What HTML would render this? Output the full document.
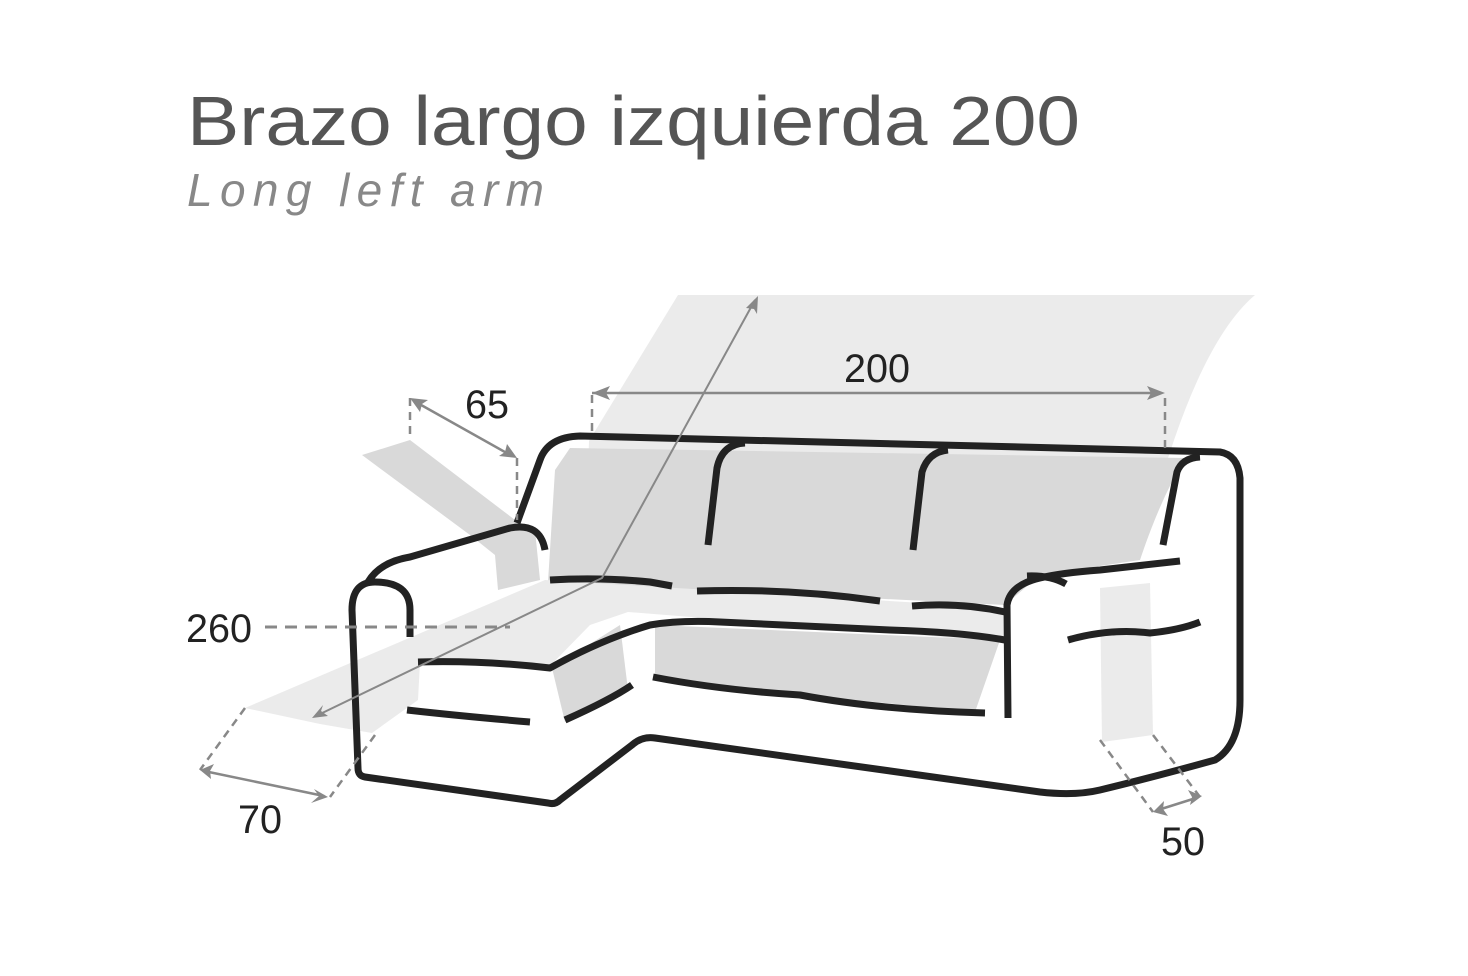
<!DOCTYPE html>
<html><head><meta charset="utf-8"><style>html,body{margin:0;padding:0;background:#fff}svg{display:block}</style></head>
<body>
<svg width="1468" height="976" viewBox="0 0 1468 976" xmlns="http://www.w3.org/2000/svg">
<text x="187" y="145" font-family="Liberation Sans, sans-serif" font-size="70" fill="#555" textLength="893" lengthAdjust="spacingAndGlyphs">Brazo largo izquierda 200</text>
<text x="187" y="206" font-family="Liberation Sans, sans-serif" font-style="italic" font-size="46" fill="#888" textLength="357" lengthAdjust="spacing">Long left arm</text>

<path d="M678,295 L1255,295 Q1190,350 1140,560 L585,560 L589,441 Z" fill="#ebebeb"/>
<path d="M570,448 L1185,458 Q1160,500 1140,560 L1040,575 L1005,605 L548,582 L555,470 Z" fill="#d9d9d9"/>
<path d="M245,708 L545,580 L1005,608 L1005,642 L628,612 L590,625 L548,668 L420,662 L418,700 L372,733 L320,724 Z" fill="#ebebeb"/>
<path d="M362,455 L410,440 L515,520 L535,530 L540,580 L498,590 L495,555 L470,535 Z" fill="#d9d9d9"/>
<path d="M655,625 L1000,640 L975,712 L655,680 Z" fill="#d9d9d9"/>
<path d="M552,668 L620,625 L628,690 L565,722 Z" fill="#d9d9d9"/>
<path d="M1100,588 L1150,583 L1153,735 L1102,742 Z" fill="#ebebeb"/>

<g fill="none" stroke="#222" stroke-width="7" stroke-linecap="butt" stroke-linejoin="round">
<path d="M517,523 L540,460 Q548,437 580,436 L1220,452 Q1238,455 1240,478 L1240,700 Q1240,745 1215,760 Q1150,778 1100,790 Q1075,796 1040,792 L655,738 Q642,736 632,745 L560,800 Q555,805 548,803 L365,777 Q358,776 358,768 L352,610 Q352,582 375,582 Q410,582 410,610 L410,637"/>
<path d="M368,582 Q380,562 410,557 L510,528 Q540,522 545,550"/>
<path d="M1008,718 L1007,605 Q1010,585 1040,578 Q1060,573 1100,570 L1180,561"/>
<path d="M1027,576 Q1050,575 1066,584"/>
<path d="M1163,545 L1177,472 Q1182,458 1200,457"/>
<path d="M708,545 L717,468 Q722,444 745,443"/>
<path d="M913,550 L922,472 Q928,452 948,450"/>
<path d="M550,580 Q600,577 650,582 L672,586"/>
<path d="M697,591 Q790,588 880,601"/>
<path d="M912,606 Q960,602 1005,612"/>
<path d="M1005,640 Q960,632 890,630 L720,622 Q680,620 650,625 Q600,640 550,668 Q480,660 418,662"/>
<path d="M407,710 Q460,716 530,722"/>
<path d="M565,720 Q610,700 632,685"/>
<path d="M653,677 Q720,690 800,695 Q880,710 985,713"/>
<path d="M1068,640 Q1110,628 1150,633 Q1180,630 1200,622"/>
</g>

<g stroke="#888" fill="none" stroke-width="2.5">
<path d="M592,393 L1160,393"/>
<path d="M592,395 V435 M1165,398 V450 M410,398 V440 M517,458 V520 M245,708 L200,770 M375,735 L330,797 M1100,740 L1153,812 M1153,735 L1200,797" stroke-dasharray="8,6"/>
<path d="M265,627 H510" stroke-dasharray="12,8" stroke-width="3"/>
<path d="M414,401 L512,456"/>
<path d="M204,771 L324,796"/>
<path d="M1158,810 L1196,798"/>
<path d="M755,300 L602,578 L316,716" stroke-width="2"/>
</g>
<g fill="#888">
<polygon points="592,393 610,386 606,393 610,400"/>
<polygon points="1165,393 1147,386 1151,393 1147,400"/>
<polygon points="410,398 428,400 422,404 420,412"/>
<polygon points="517,458 499,456 505,452 507,444"/>
<polygon points="200,770 214,764 210,771 211,779"/>
<polygon points="328,797 314,789 319,796 311,803"/>
<polygon points="1153,812 1164,801 1163,809 1168,816"/>
<polygon points="1202,796 1188,790 1192,797 1190,805"/>
<polygon points="758,296 757,314 754,309 746,308"/>
<polygon points="312,718 323,705 321,711 328,716"/>
</g>
<g font-family="Liberation Sans, sans-serif" font-size="40" fill="#222">
<text x="877" y="382" text-anchor="middle" textLength="66" lengthAdjust="spacingAndGlyphs">200</text>
<text x="487" y="418" text-anchor="middle" textLength="44" lengthAdjust="spacingAndGlyphs">65</text>
<text x="186" y="642" textLength="66" lengthAdjust="spacingAndGlyphs">260</text>
<text x="260" y="833" text-anchor="middle" textLength="44" lengthAdjust="spacingAndGlyphs">70</text>
<text x="1183" y="855" text-anchor="middle" textLength="44" lengthAdjust="spacingAndGlyphs">50</text>
</g>
</svg>
</body></html>
